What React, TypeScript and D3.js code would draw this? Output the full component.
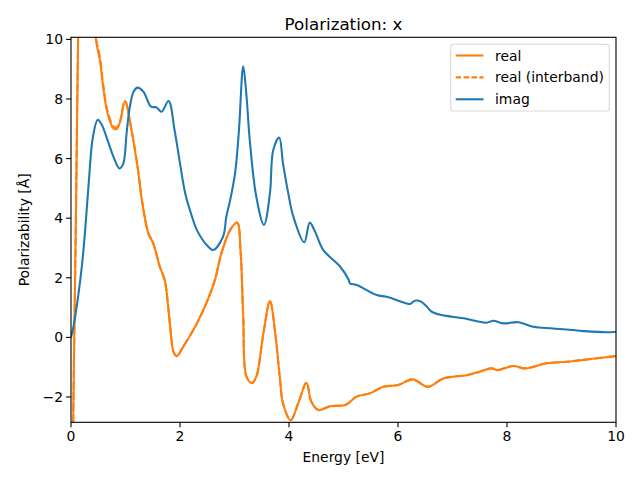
import React from "react";
import * as d3 from "d3";

const imagE = [0, 0.05, 0.13, 0.2, 0.26, 0.33, 0.4, 0.49, 0.56, 0.65, 0.78, 0.89, 0.96, 1.02, 1.08, 1.15, 1.22, 1.33, 1.47, 1.57, 1.66, 1.79, 1.9, 2.0, 2.1, 2.24, 2.31, 2.49, 2.61, 2.79, 2.85, 2.92, 3.01, 3.08, 3.16, 3.22, 3.28, 3.4, 3.54, 3.65, 3.71, 3.82, 3.89, 3.98, 4.08, 4.28, 4.38, 4.48, 4.63, 4.94, 5.09, 5.12, 5.24, 5.61, 5.79, 6.16, 6.22, 6.31, 6.43, 6.52, 6.62, 6.8, 7.2, 7.62, 7.75, 7.93, 8.21, 8.48, 8.85, 9.4, 9.83, 10];
const imagV = [0, 0.4, 1.36, 2.4, 3.6, 5.3, 6.7, 7.3, 7.15, 6.73, 6.06, 5.67, 5.84, 6.85, 7.74, 8.25, 8.38, 8.24, 7.74, 7.72, 7.57, 7.93, 6.96, 5.84, 4.8, 3.94, 3.6, 3.1, 2.93, 3.38, 4.05, 4.6, 5.5, 6.9, 9.1, 8.1, 6.62, 4.72, 3.77, 4.83, 6.28, 6.71, 5.84, 4.9, 4.05, 3.19, 3.85, 3.54, 2.93, 2.37, 1.95, 1.81, 1.76, 1.42, 1.36, 1.14, 1.12, 1.23, 1.19, 1.05, 0.86, 0.75, 0.64, 0.49, 0.56, 0.47, 0.51, 0.36, 0.3, 0.21, 0.17, 0.19];

const realE = [0.02, 0.04, 0.09, 0.13, 0.18, 0.3, 0.42, 0.46, 0.53, 0.59, 0.67, 0.78, 0.84, 0.9, 0.99, 1.11, 1.23, 1.3, 1.42, 1.51, 1.63, 1.72, 1.75, 1.82, 1.88, 1.94, 2.06, 2.31, 2.52, 2.64, 2.76, 2.92, 3.05, 3.11, 3.16, 3.22, 3.32, 3.4, 3.53, 3.65, 3.74, 3.83, 3.89, 4.03, 4.17, 4.32, 4.41, 4.54, 4.75, 5.03, 5.24, 5.48, 5.73, 6.0, 6.27, 6.55, 6.83, 7.26, 7.5, 7.72, 7.81, 8.12, 8.33, 8.73, 9.09, 9.46, 10];
const realV = [-8, -2.9, 4, 10, 14, 15, 12, 9.97, 9.3, 8.41, 7.52, 7.01, 7.0, 7.23, 7.93, 6.96, 5.61, 4.61, 3.49, 3.15, 2.37, 1.92, 1.59, 0.36, -0.48, -0.63, -0.31, 0.47, 1.31, 1.92, 2.82, 3.6, 3.85, 2.93, 0.69, -1.32, -1.53, -1.32, 0.13, 1.22, 0.25, -1.32, -2.21, -2.78, -2.21, -1.52, -2.16, -2.44, -2.31, -2.27, -1.99, -1.88, -1.66, -1.6, -1.41, -1.66, -1.38, -1.27, -1.15, -1.04, -1.1, -0.96, -1.04, -0.87, -0.82, -0.74, -0.63];
const interbandV = [-8, -2.9, 4, 10, 14, 15, 12, 10.05, 9.4, 8.5, 7.6, 7.08, 7.05, 7.26, 7.93, 6.96, 5.61, 4.61, 3.49, 3.15, 2.37, 1.92, 1.59, 0.36, -0.48, -0.63, -0.31, 0.47, 1.31, 1.92, 2.82, 3.6, 3.85, 2.93, 0.69, -1.32, -1.53, -1.32, 0.13, 1.22, 0.25, -1.32, -2.21, -2.78, -2.21, -1.52, -2.16, -2.44, -2.31, -2.27, -1.99, -1.88, -1.66, -1.6, -1.41, -1.66, -1.38, -1.27, -1.15, -1.04, -1.1, -0.96, -1.04, -0.87, -0.82, -0.74, -0.63];

const xTicks = [0, 2, 4, 6, 8, 10];
const yTicks = [-2, 0, 2, 4, 6, 8, 10];
const legendLabels = ["real", "real (interband)", "imag"];

const ORANGE = "#ff7f0e";
const BLUE = "#1f77b4";
const FONT = "DejaVu Sans, sans-serif";

export default function App() {
  const L = 71, R = 616, T = 37.3, B = 422.3;
  const x = d3.scaleLinear().domain([0, 10]).range([L, R]);
  const y = d3.scaleLinear().domain([-2.85, 10.07]).range([B, T]);
  const line = d3
    .line<[number, number]>()
    .x((d) => x(d[0]))
    .y((d) => y(d[1]))
    .curve(d3.curveCatmullRom.alpha(0.5));
  const real = line(realE.map((e, i) => [e, realV[i]]))!;
  const inter = line(realE.map((e, i) => [e, interbandV[i]]))!;
  const imag = line(imagE.map((e, i) => [e, imagV[i]]))!;

  const legendColors = [ORANGE, ORANGE, BLUE];
  const legendDash = ["none", "5.5,2.4", "none"];
  const legX = 450.7, legY = 44.3, legW = 158.6, legH = 66.7;

  return (
    <svg
      width={640}
      height={480}
      style={{ position: "absolute", left: 0, top: 0, background: "#fff" }}
      fontFamily={FONT}
    >
      <rect x={0} y={0} width={640} height={480} fill="#fff" />
      <defs>
        <clipPath id="plotclip">
          <rect x={L} y={T} width={R - L} height={B - T} />
        </clipPath>
      </defs>
      <g clipPath="url(#plotclip)" fill="none" strokeWidth={2.08} strokeLinejoin="round" strokeLinecap="butt">
        <path d={real} stroke={ORANGE} />
        <path d={inter} stroke={ORANGE} strokeDasharray="7.7,3.3" />
        <path d={imag} stroke={BLUE} />
      </g>
      <rect x={L} y={T} width={R - L} height={B - T} fill="none" stroke="#000" strokeWidth={1.1} />
      {xTicks.map((t) => (
        <g key={"x" + t}>
          <line x1={x(t)} x2={x(t)} y1={B} y2={B + 4.9} stroke="#000" strokeWidth={1.1} />
          <text x={x(t)} y={B + 19} textAnchor="middle" fontSize={13.9} fill="#000">
            {t}
          </text>
        </g>
      ))}
      {yTicks.map((t) => (
        <g key={"y" + t}>
          <line x1={L - 4.9} x2={L} y1={y(t)} y2={y(t)} stroke="#000" strokeWidth={1.1} />
          <text x={L - 8} y={y(t) + 5} textAnchor="end" fontSize={13.9} fill="#000">
            {t < 0 ? "\u2212" + Math.abs(t) : t}
          </text>
        </g>
      ))}
      <text x={(L + R) / 2} y={462} textAnchor="middle" fontSize={13.9} fill="#000">
        Energy [eV]
      </text>
      <text
        transform={`translate(29, ${(T + B) / 2}) rotate(-90)`}
        textAnchor="middle"
        fontSize={13.9}
        fill="#000"
      >
        Polarizability [Å]
      </text>
      <text x={(L + R) / 2} y={30} textAnchor="middle" fontSize={16.7} fill="#000">
        Polarization: x
      </text>
      <rect x={legX} y={legY} width={legW} height={legH} rx={2.8} fill="#fff" fillOpacity={0.8} stroke="#d9d9d9" strokeWidth={1.1} />
      {legendLabels.map((lab, i) => {
        const ly = 55.5 + i * 21.9;
        return (
          <g key={lab}>
            <line x1={455.7} x2={483.5} y1={ly} y2={ly} stroke={legendColors[i]} strokeWidth={2.08} strokeDasharray={legendDash[i]} />
            <text x={495} y={ly + 5} fontSize={13.9} fill="#000">
              {lab}
            </text>
          </g>
        );
      })}
    </svg>
  );
}
